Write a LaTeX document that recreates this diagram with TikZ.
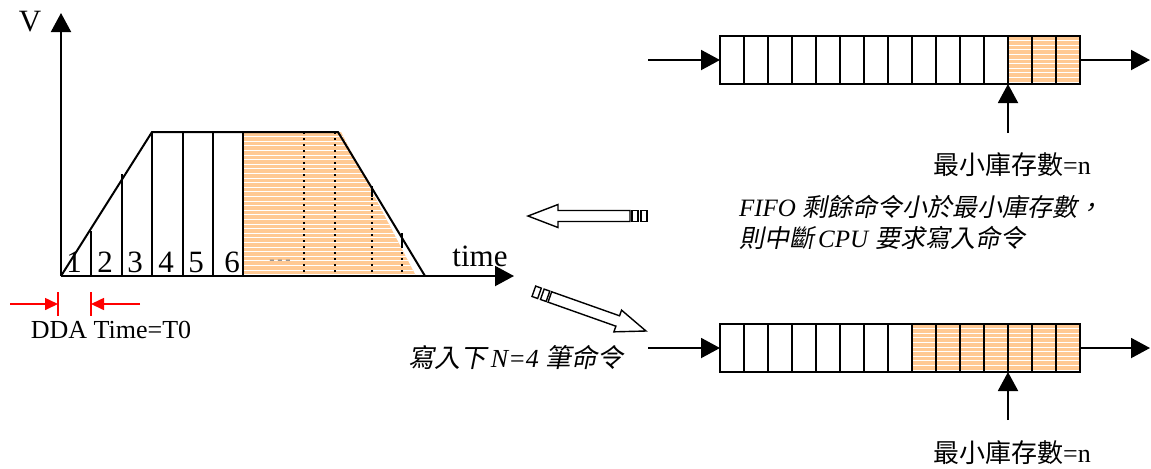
\documentclass[tikz,border=0pt]{standalone}
\usepackage{fontspec}
\setmainfont{Liberation Serif}
\newfontfamily\cjk{Noto Sans CJK TC}
\newfontfamily\cjkit[FakeSlant=0.2]{Noto Sans CJK TC}
\usepackage{xcolor}
\definecolor{fifoorange}{HTML}{FFC993}
\definecolor{ddared}{HTML}{FF0000}
\usepackage{tikz}
\usetikzlibrary{arrows.meta, positioning, calc}

\tikzset{
    hollowarrow/.pic={
        \draw[line width=0.7pt, fill=white] (0,0) -- (-30,11.5) -- (-30,5.5) -- (-102,5.5) -- (-102,-5.5) -- (-30,-5.5) -- (-30,-11.5) -- cycle;
        \draw[line width=0.7pt] (-104,5.5) rectangle (-110,-5.5);
        \draw[line width=0.7pt] (-113,5.5) rectangle (-119,-5.5);
    },
}

\begin{document}
\begin{tikzpicture}[
    x=0.5pt, y=-0.5pt,
    line width=1pt,
    flow/.style={-{Triangle[length=9.5pt, width=10pt]}},
    dimarrow/.style={draw=ddared, line width=0.8pt, -{Triangle[length=6.5pt, width=6pt]}},
    stripe/.style={fill=fifoorange, path picture={\foreach \k in {1,...,40} \draw[white, line width=0.5pt] ([yshift=-\k*2.3pt]path picture bounding box.north west) -- ([yshift=-\k*2.3pt]path picture bounding box.north east);}},
    cell/.style={draw, rectangle, minimum width=12pt, minimum height=24pt, inner sep=0pt, outer sep=0pt},
    graphlbl/.style={font=\fontsize{15.5}{18}\selectfont, inner sep=0pt},
    lbl/.style={font=\fontsize{12.5}{15}\selectfont, inner sep=0pt},
]
    \useasboundingbox (0,0) rectangle (1151,468);

    % speed profile
    \coordinate (o) at (61,276);
    \coordinate (vtop) at (61,13);
    \coordinate (tend) at (514,276);
    \path[stripe] (243,132) -- (341,132) -- (416,276) -- (243,276) -- cycle;
    \draw (o) -- (152,132) -- (338,132) -- (425,276);
    \foreach \x in {152,183,213,243} \draw (\x,132) -- (\x,276);
    \draw (91,231) -- (91,276);
    \draw (122,174) -- (122,276);
    \foreach \x in {304,335} \draw[dotted] (\x,132) -- (\x,276);
    \draw[dotted] (372,192) -- (372,276);
    \draw[dotted] (402,240) -- (402,276);
    \draw (372,186) -- (372,197);
    \draw (402,233) -- (402,247);
    \draw[flow] (o) -- (vtop);
    \draw[flow] (o) -- (tend);
    \node[graphlbl] (vlbl) at (30,22) {V};
    \node[graphlbl] (tlbl) at (480,256) {time};
    \foreach \n/\x in {1/74,2/105,3/135,4/166,5/196,6/232}
        \node[graphlbl] (n\n) at (\x,262) {\n};
    \node[font=\footnotesize, text=gray] (dots) at (280,262) {-\,-\,-};

    % DDA time
    \coordinate (da) at (10,304);
    \coordinate (db) at (58,304);
    \coordinate (dc) at (91,304);
    \coordinate (dd) at (140,304);
    \draw[ddared, line width=0.8pt] ($(db)+(0,-12)$) -- ($(db)+(0,12)$);
    \draw[ddared, line width=0.8pt] ($(dc)+(0,-12)$) -- ($(dc)+(0,12)$);
    \draw[dimarrow] (da) -- (db);
    \draw[dimarrow] (dd) -- (dc);
    \node[font=\fontsize{13}{15}\selectfont, inner sep=0pt] (dda) at (111,330) {DDA Time=T0};

    % FIFO before
    \foreach \i in {1,...,12} \node[cell] (a\i) at ({708+24*\i},60) {};
    \foreach \i in {13,14,15} \node[cell, stripe] (a\i) at ({708+24*\i},60) {};
    \coordinate (ain) at (648,60);
    \coordinate (aout) at (1150,60);
    \coordinate (aptr) at (1008,133);
    \draw[flow] (ain) -- (a1);
    \draw[flow] (a15) -- (aout);
    \draw[flow] (aptr) -- (a12.south east);
    \node[lbl, font=\fontsize{13}{15}\selectfont] (amin) at (1012,165) {{\cjk 最小庫存數}=n};

    % FIFO after
    \foreach \i in {1,...,8} \node[cell] (b\i) at ({708+24*\i},348) {};
    \foreach \i in {9,...,15} \node[cell, stripe] (b\i) at ({708+24*\i},348) {};
    \coordinate (bin) at (648,348);
    \coordinate (bout) at (1150,348);
    \coordinate (bptr) at (1008,420);
    \draw[flow] (bin) -- (b1);
    \draw[flow] (b15) -- (bout);
    \draw[flow] (bptr) -- (b12.south east);
    \node[lbl, font=\fontsize{13}{15}\selectfont] (bmin) at (1012,453) {{\cjk 最小庫存數}=n};

    % notes
    \pic[rotate=180] at (528,216) {hollowarrow};
    \pic[rotate=-19.5] at (646,331) {hollowarrow};
    \node[lbl, anchor=west] (note1) at (738,207) {\textit{FIFO} {\cjkit 剩餘命令小於最小庫存數，}};
    \node[lbl, anchor=west] (note2) at (738,238) {{\cjkit 則中斷}\,\textit{CPU} {\cjkit 要求寫入命令}};
    \node[lbl, font=\fontsize{13}{15}\selectfont] (write) at (516,357) {{\cjkit 寫入下}\,\textit{N=4} {\cjkit 筆命令}};
\end{tikzpicture}
\end{document}
